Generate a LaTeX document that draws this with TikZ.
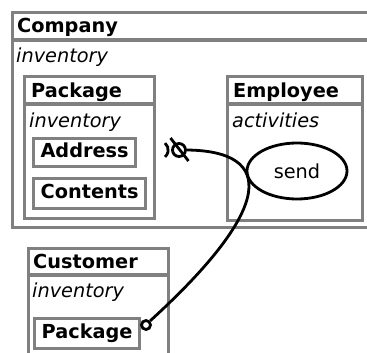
\documentclass[tikz,border=0pt]{standalone}
\usepackage{fontspec}
\setmainfont{DejaVu Sans}
\usetikzlibrary{shapes.geometric}
\definecolor{boxgray}{RGB}{128,128,128}
\newcommand\dsize{\fontsize{19.3}{23}\selectfont}
\begin{document}
\begin{tikzpicture}[x=1pt,y=-1pt,font=\dsize,
  frame/.style={draw=boxgray,line width=3.2pt,fill=white,inner sep=0,anchor=north west},
  title/.style={font=\dsize\bfseries,inner sep=0,anchor=base west},
  field/.style={font=\dsize\itshape,inner sep=0,anchor=base west},
  part/.style={frame,font=\dsize\bfseries,text height=14pt,text depth=4pt},
  sep/.style={draw=boxgray,line width=3.2pt},
  wire/.style={line width=2.8pt}]
\clip (0,0) rectangle (367,353);
\node[frame,minimum width=372,minimum height=215] (company) at (11,11) {};
\draw[sep] ([yshift=-29pt]company.north west)--([yshift=-29pt]company.north east);
\node[title] (companyTitle) at (17,33) {Company};
\node[field] (companyInv) at (16,63) {inventory};
\node[frame,minimum width=130,minimum height=142] (package) at (23,75) {};
\draw[sep] ([yshift=-29pt]package.north west)--([yshift=-29pt]package.north east);
\node[title] (packageTitle) at (31,97) {Package};
\node[field] (packageInv) at (29,127) {inventory};
\node[part,minimum width=102,minimum height=28] (address) at (32,137) {Address};
\node[part,minimum width=112,minimum height=30] (contents) at (32,177) {Contents};
\node[frame,minimum width=135,minimum height=144] (employee) at (226,75) {};
\draw[sep] ([yshift=-29pt]employee.north west)--([yshift=-29pt]employee.north east);
\node[title] (employeeTitle) at (233,97) {Employee};
\node[field] (employeeAct) at (232,127) {activities};
\node[ellipse,draw,wire,fill=white,minimum width=100,minimum height=56,inner sep=0] (send) at (297,171) {send};
\node[frame,minimum width=140,minimum height=130] (customer) at (27,247) {};
\draw[sep] ([yshift=-28pt]customer.north west)--([yshift=-28pt]customer.north east);
\node[title] (customerTitle) at (33,268) {Customer};
\node[field] (customerInv) at (32,297) {inventory};
\node[part,minimum width=105,minimum height=30] (custPackage) at (33,317) {Package};
\node[circle,draw,wire,fill=white,minimum size=9,inner sep=0] (ball) at (146,325) {};
\node[circle,draw,wire,minimum size=13,inner sep=0] (sock) at (179,150) {};
\draw[wire] ([shift={(-8.5,-12)}]sock.center)--([shift={(9.5,11)}]sock.center);
\draw[wire] ([shift={(-14,-6.9)}]sock.center) arc[start angle=-50,end angle=50,radius=9];
\draw[wire] (ball.45) .. controls (275,207) and (275,151) .. (sock.east);
\end{tikzpicture}
\end{document}
